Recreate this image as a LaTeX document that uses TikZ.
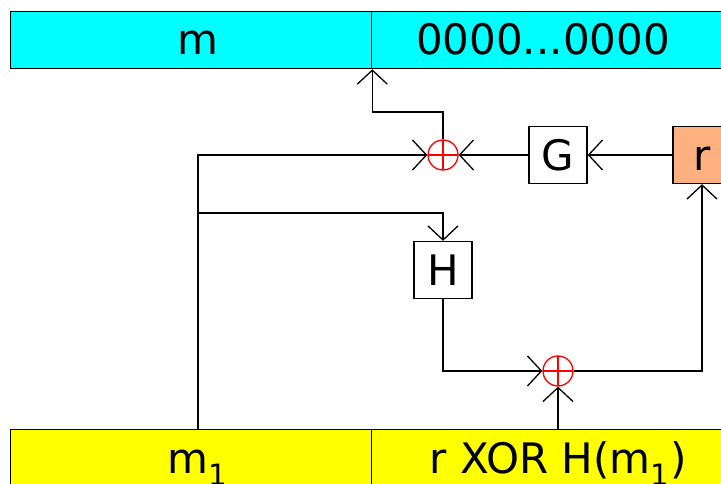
\documentclass[tikz,border=0pt]{standalone}
\usepackage{fontspec}
\setmainfont{DejaVu Sans}
\usetikzlibrary{arrows.meta}
\definecolor{salmon}{RGB}{255,176,128}
\definecolor{aqua}{RGB}{0,255,255}
\definecolor{yel}{RGB}{255,255,0}
\begin{document}
\begin{tikzpicture}[x=1pt,y=-1pt,line width=1.3pt,
  bigfont/.style={font=\fontsize{42}{50}\selectfont},
  field/.style={draw,line width=1.3pt,minimum height=57pt,inner sep=0pt,anchor=north west},
  lbl/.style={bigfont,inner sep=0pt,anchor=base},
  fbox/.style={draw,line width=1.3pt,minimum width=58pt,minimum height=57pt,inner sep=0pt,bigfont,text height=31pt,text depth=0pt},
  xorc/.style={circle,draw=red,minimum size=30pt,inner sep=0pt,line width=1.3pt,
    path picture={\draw[red,line width=1.3pt] (path picture bounding box.north)--(path picture bounding box.south)
      (path picture bounding box.west)--(path picture bounding box.east);}},
  arr/.style={-{Straight Barb[length=14pt,width=30pt,line width=1.3pt]}}
]
\useasboundingbox (0,0) rectangle (721,484);
\clip (0,0) rectangle (721,484);
% fields
\node[field,fill=aqua,minimum width=361pt] (tl) at (10,11) {};
\node[field,fill=aqua,minimum width=361pt] (tr) at (371,11) {};
\node[field,fill=yel,minimum width=361pt] (bl) at (10,429) {};
\node[field,fill=yel,minimum width=361pt] (br) at (371,429) {};
\node[lbl] (tltxt) at (198,55) {m};
\node[lbl] (trtxt) at (543,55) {0000...0000};
\node[lbl] (bltxt) at (198,473) {m\textsubscript{1}};
\node[lbl] (brtxt) at (558,473) {r XOR H(m\textsubscript{1})};
% boxes
\node[fbox] (G) at (558,155) {G};
\node[fbox] (H) at (443,270) {H};
\node[fbox,fill=salmon] (r) at (702,155) {r};
\node[xorc] (x1) at (443,155) {};
\node[xorc] (x2) at (558,371) {};
% connectors
\coordinate (a) at (198,429);
\coordinate (b) at (198,213);
\coordinate (c) at (443,112);
\draw[arr] (r.west) -- (G.east);
\draw[arr] (G.west) -- (x1.east);
\draw[arr] (a) |- (x1.west);
\draw[arr] (b) -| (H.north);
\draw[arr] (x1.north) -- (c) -| (tl.south east);
\draw[arr] (H.south) |- (x2.west);
\draw[arr] (x2 |- br.north) -- (x2.south);
\draw[arr] (x2.east) -| (r.south);
\end{tikzpicture}
\end{document}
